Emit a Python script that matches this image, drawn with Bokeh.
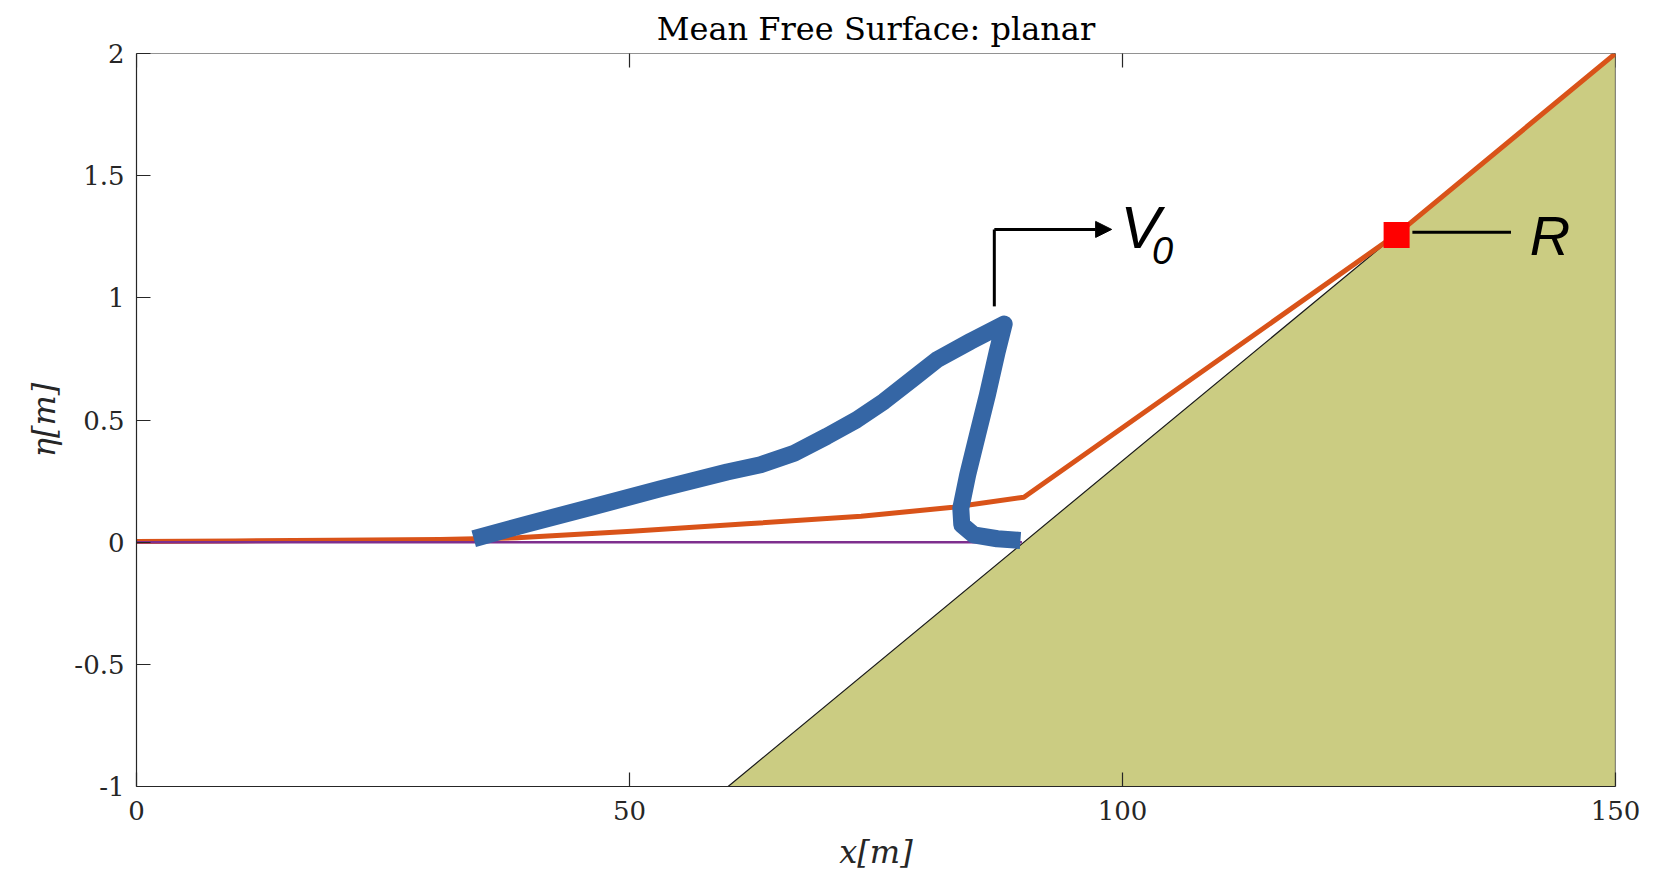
import math
from bokeh.plotting import figure
from bokeh.models import (LinearAxis, FixedTicker, Label, Arrow, NormalHead,
                          Range1d, Span)
from bokeh.embed import file_html
from bokeh.resources import INLINE

# ---------------- data ----------------
x_ticks = [0, 50, 100, 150]
y_ticks = [-1, -0.5, 0, 0.5, 1, 1.5, 2]
y_tick_labels = ["-1", "-0.5", "0", "0.5", "1", "1.5", "2"]
x_min, x_max = 0, 150
y_min, y_max = -1, 2

# bathymetry (planar slope)
bed_x = [60, 150, 150]
bed_y = [-1, 2, -1]

# still water level
swl_x = [0, 89.8]
swl_y = [0, 0]

# mean free surface (setup) + runup
mean_x = [0, 10, 20, 30.8, 38.6, 50.2, 61.9, 73.5, 82.8, 90.0, 127.8, 150]
mean_y = [0.003, 0.005, 0.008, 0.011, 0.018, 0.045, 0.075, 0.106, 0.143, 0.184, 1.26, 2.0]

# breaking wave profile
wave_x = [34.2, 39.6, 46.4, 53.1, 59.9, 63.3, 66.7, 70.0, 73.0, 75.8, 78.8, 81.2,
          84.6, 88.0, 87.3, 86.3, 85.3, 84.3, 83.6, 83.7, 84.9, 87.3, 89.65]
wave_y = [0.014, 0.074, 0.146, 0.218, 0.287, 0.317, 0.364, 0.433, 0.50, 0.576, 0.671, 0.747,
          0.822, 0.893, 0.781, 0.603, 0.440, 0.276, 0.139, 0.071, 0.030, 0.014, 0.007]

# runup point
runup_x = [127.8]
runup_y = [1.257]

SERIF = "DejaVu Serif"
SANS = "Liberation Sans"
AX = "#262626"

p = figure(width=1663, height=877, x_range=Range1d(x_min, x_max),
           y_range=Range1d(y_min, y_max),
           output_backend="svg", toolbar_location=None,
           x_axis_location=None, y_axis_location=None,
           min_border_left=136, min_border_right=48, min_border_top=53,
           min_border_bottom=91)
p.outline_line_color = None
p.grid.visible = False
p.background_fill_color = "white"
p.border_fill_color = "white"

p.title.text = "Mean Free Surface: planar"
p.title.align = "center"
p.title.text_font = SERIF
p.title.text_font_style = "normal"
p.title.text_font_size = "32px"
p.title.text_color = "#000000"
p.title.standoff = 12


def style_axis(ax):
    ax.axis_line_color = AX
    ax.axis_line_width = 1.2
    ax.major_tick_line_color = AX
    ax.major_tick_line_width = 1.2
    ax.major_tick_in = 14
    ax.major_tick_out = 0
    ax.minor_tick_line_color = None
    ax.major_label_text_font = SERIF
    ax.major_label_text_font_size = "26px"
    ax.major_label_text_color = "#262626"


xb = LinearAxis(ticker=FixedTicker(ticks=x_ticks))
style_axis(xb)
xb.major_label_standoff = 14
xb.axis_label = "x[m]"
xb.axis_label_text_font = SERIF
xb.axis_label_text_font_style = "italic"
xb.axis_label_text_font_size = "32px"
xb.axis_label_text_color = "#262626"
xb.axis_label_standoff = 10
p.add_layout(xb, "below")

yl = LinearAxis(ticker=FixedTicker(ticks=y_ticks))
style_axis(yl)
yl.major_label_overrides = {t: s for t, s in zip(y_ticks, y_tick_labels)}
yl.major_label_standoff = 12
yl.axis_label = "η[m]"
yl.axis_label_text_font = SERIF
yl.axis_label_text_font_style = "italic"
yl.axis_label_text_font_size = "32px"
yl.axis_label_text_color = "#262626"
yl.axis_label_standoff = 8
p.add_layout(yl, "left")

# top edge of the box and its inward ticks
p.add_layout(Span(location=y_max, dimension="width", line_color=AX, line_width=1.2))
p.scatter(x_ticks, [y_max] * len(x_ticks), marker="dash", angle=math.pi / 2,
          size=28, line_color=AX, line_width=1.2)

# bathymetry
p.patch(bed_x, bed_y, fill_color="#CBCC82", line_color="#1a1a1a", line_width=1.2)

# mean free surface
p.line(mean_x, mean_y, line_color="#D95319", line_width=5, line_join="round")
# still water level
p.line(swl_x, swl_y, line_color="#7E2F8E", line_width=2.5)
# wave profile
p.line(wave_x, wave_y, line_color="#3566A5", line_width=17,
       line_join="round", line_cap="butt")

# runup marker and callout
p.line([129.4, 139.4], [1.268, 1.268], line_color="black", line_width=3)
p.scatter(runup_x, runup_y, marker="square", size=26, fill_color="#FF0000",
          line_color=None)
p.add_layout(Label(x=141.3, y=1.125, text="R", text_font=SANS,
                   text_font_style="italic", text_font_size="56px",
                   text_color="black"))

# V0 arrow
p.line([87.0, 87.0], [0.965, 1.28], line_color="black", line_width=3)
p.add_layout(Arrow(x_start=87.0, y_start=1.28, x_end=98.9, y_end=1.28,
                   line_color="black", line_width=3,
                   end=NormalHead(size=16, fill_color="black", line_color="black")))
p.add_layout(Label(x=99.8, y=1.15, text="V", text_font=SANS,
                   text_font_style="italic", text_font_size="60px",
                   text_color="black"))
p.add_layout(Label(x=103.0, y=1.138, text="0", text_font=SANS,
                   text_font_style="italic", text_font_size="38px",
                   text_color="black"))

open("out.html", "w").write(file_html(p, INLINE))
